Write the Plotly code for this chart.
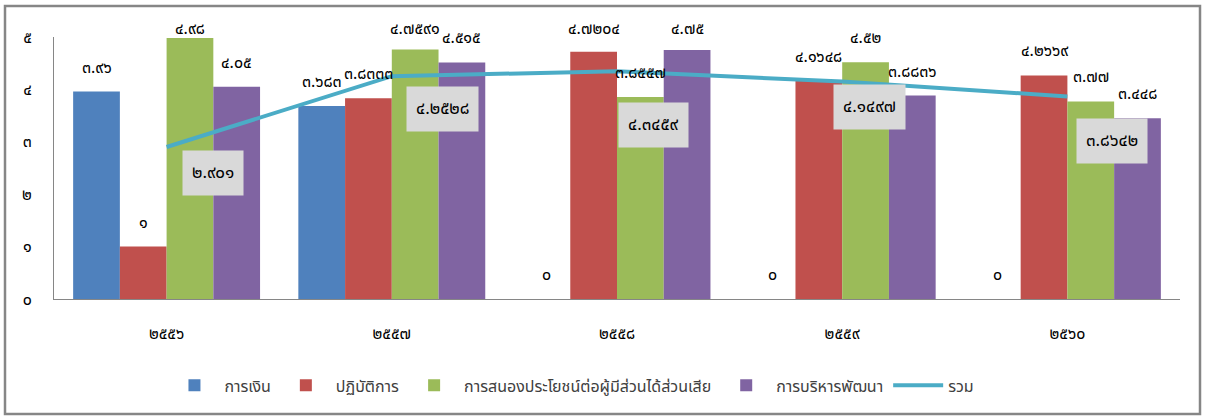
import plotly.graph_objects as go

years = ["2556", "2557", "2558", "2559", "2560"]
series_names = ["การเงิน", "ปฏิบัติการ", "การสนองประโยชน์ต่อผู้มีส่วนได้ส่วนเสีย", "การบริหารพัฒนา"]
finance = [3.96, 3.683, 0, 0, 0]
operation = [1, 3.8333, 4.7204, 4.1648, 4.2669]
stakeholder = [4.98, 4.7591, 3.8557, 4.52, 3.77]
admin = [4.05, 4.515, 4.75, 3.8836, 3.448]
total_name = "รวม"
total = [2.901, 4.2528, 4.3459, 4.1497, 3.8642]
y_ticks = [0, 1, 2, 3, 4, 5]

colors = ["#4F81BD", "#C0504D", "#9BBB59", "#8064A2"]
line_color = "#4BACC6"
# pixel offsets of the gray total-label boxes (style only)
total_label_shift = [(46, -26), (51, -33), (36, -54), (27, -25), (45, -44)]

TH = str.maketrans("0123456789", "๐๑๒๓๔๕๖๗๘๙")


def th(v):
    return f"{v:g}".translate(TH)


cats = [y.translate(TH) for y in years]

FONT = "Tahoma, 'Noto Sans Thai', 'Noto Sans', 'DejaVu Sans', sans-serif"
W, H = 1205, 419
ML, MR, MT, MB = 54, 25, 37, 120
BARGAP = 0.17

fig = go.Figure()
all_series = [finance, operation, stakeholder, admin]
for name, vals, c in zip(series_names, all_series, colors):
    fig.add_trace(go.Bar(x=cats, y=vals, name=name, marker=dict(color=c, line=dict(width=0))))

fig.add_trace(go.Scatter(x=cats, y=total, name=total_name, mode="lines",
                         line=dict(color=line_color, width=4)))

plot_w = W - ML - MR
plot_h = H - MT - MB
cat_w = plot_w / len(years)
bar_w = cat_w * (1 - BARGAP) / len(all_series)
ymax = 5
label_cap = ymax - 16 / (plot_h / ymax)  # keep labels inside top edge

annotations = []
for si, vals in enumerate(all_series):
    xs = (si - (len(all_series) - 1) / 2) * bar_w
    for ci, v in enumerate(vals):
        annotations.append(dict(x=ci, y=min(v, label_cap), xref="x", yref="y", text=th(v),
                                showarrow=False, xshift=xs, yshift=24,
                                font=dict(family=FONT, size=16, color="#000000")))
for ci, (v, (dx, dy)) in enumerate(zip(total, total_label_shift)):
    annotations.append(dict(x=ci, y=v, xref="x", yref="y", text=th(v), showarrow=False,
                            xshift=dx, yshift=dy, bgcolor="#D9D9D9", borderpad=9,
                            font=dict(family=FONT, size=17, color="#000000")))

fig.update_layout(
    width=W, height=H,
    margin=dict(l=ML, r=MR, t=MT, b=MB),
    paper_bgcolor="white", plot_bgcolor="white",
    barmode="group", bargap=BARGAP, bargroupgap=0,
    font=dict(family=FONT, size=16, color="#000000"),
    showlegend=True,
    legend=dict(orientation="h", x=0.46, xanchor="center", y=-0.33, yanchor="middle",
                font=dict(family=FONT, size=16, color="#404040"), traceorder="normal",
                itemwidth=50),
    annotations=annotations,
    shapes=[dict(type="rect", xref="paper", yref="paper",
                 x0=(5 - ML) / plot_w, x1=(W - 5 - ML) / plot_w,
                 y0=-(H - 5 - MT - plot_h) / plot_h, y1=1 + (MT - 6) / plot_h,
                 line=dict(color="#868686", width=2.5), layer="below")],
)
fig.update_xaxes(type="category", range=[-0.5, len(cats) - 0.5], showline=True,
                 linecolor="#868686", linewidth=1,
                 showgrid=False, ticks="", ticklabelstandoff=20,
                 tickfont=dict(size=16, color="#000000"))
fig.update_yaxes(range=[0, ymax], showline=True, linecolor="#868686", linewidth=1,
                 showgrid=False, zeroline=False, ticks="", tickvals=y_ticks,
                 ticktext=[str(t).translate(TH) for t in y_ticks], ticklabelstandoff=18,
                 tickfont=dict(size=16, color="#000000"))

fig.write_html("out.html")
